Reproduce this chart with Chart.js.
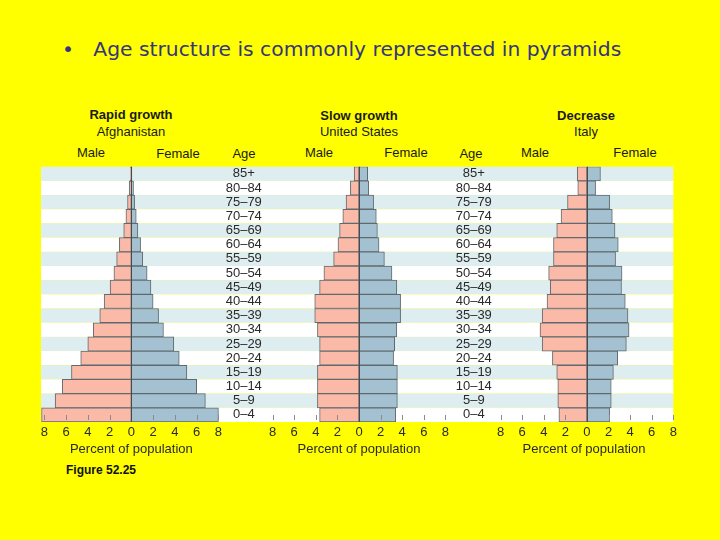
<!DOCTYPE html>
<html>
<head>
<meta charset="utf-8">
<script src="https://cdn.jsdelivr.net/npm/chart.js@4.4.0/dist/chart.umd.min.js"></script>
<style>
  body { margin: 0; background: #ffff00; width: 720px; height: 540px; overflow: hidden; position: relative; font-family: "Liberation Sans", Arial, sans-serif; }
  .lbl { position: absolute; transform: translate(-50%, -50%); font-size: 13px; color: #1a1a1a; white-space: nowrap; }
  .b { font-weight: bold; }
  .cv { position: absolute; top: 160px; height: 302px; }
  #titre { position: absolute; left: 62px; top: 37px; font-family: "Comic Sans MS", "DejaVu Sans", sans-serif; font-size: 20.3px; color: #35357a; white-space: nowrap; }
  #fig { position: absolute; left: 66px; top: 463px; font-size: 12px; font-weight: bold; color: #111; }
</style>
</head>
<body>
<div id="titre">&bull;&nbsp;&nbsp; Age structure is commonly represented in pyramids</div>

<div class="lbl b" style="left:131px;top:114px">Rapid growth</div>
<div class="lbl" style="left:131px;top:131px">Afghanistan</div>
<div class="lbl" style="left:91px;top:152px">Male</div>
<div class="lbl" style="left:178px;top:153px">Female</div>
<div class="lbl" style="left:244px;top:153px">Age</div>

<div class="lbl b" style="left:359px;top:115px">Slow growth</div>
<div class="lbl" style="left:359px;top:131px">United States</div>
<div class="lbl" style="left:319px;top:152px">Male</div>
<div class="lbl" style="left:406px;top:152px">Female</div>
<div class="lbl" style="left:471px;top:153px">Age</div>

<div class="lbl b" style="left:586px;top:115px">Decrease</div>
<div class="lbl" style="left:586px;top:131px">Italy</div>
<div class="lbl" style="left:535px;top:152px">Male</div>
<div class="lbl" style="left:635px;top:152px">Female</div>

<div class="cv" style="left:20px;width:246px"><canvas id="c1"></canvas></div>
<div class="cv" style="left:266px;width:230px"><canvas id="c2"></canvas></div>
<div class="cv" style="left:494px;width:206px"><canvas id="c3"></canvas></div>

<div id="fig">Figure 52.25</div>

<script>
// fasce d'eta, dall'alto verso il basso
const eta = ["85+", "80–84", "75–79", "70–74", "65–69", "60–64", "55–59", "50–54", "45–49",
  "40–44", "35–39", "30–34", "25–29", "20–24", "15–19", "10–14", "5–9", "0–4"];
const tacche = [-8, -6, -4, -2, 0, 2, 4, 6, 8];

// percentuali della popolazione
const afgMaschi = [0.1, 0.2, 0.35, 0.5, 0.7, 1.1, 1.35, 1.6, 1.95, 2.5, 2.9, 3.5, 4.0, 4.65, 5.5, 6.35, 7.0, 8.25];
const afgFemmine = [0.05, 0.2, 0.3, 0.45, 0.6, 0.85, 1.05, 1.45, 1.8, 2.0, 2.5, 2.95, 3.9, 4.4, 5.1, 6.0, 6.8, 8.0];
const usaMaschi = [0.45, 0.8, 1.2, 1.5, 1.8, 1.95, 2.35, 3.25, 3.65, 4.1, 4.1, 3.85, 3.65, 3.65, 3.85, 3.85, 3.85, 3.65];
const usaFemmine = [0.8, 0.9, 1.35, 1.6, 1.7, 1.85, 2.35, 3.05, 3.5, 3.85, 3.85, 3.5, 3.3, 3.2, 3.55, 3.55, 3.55, 3.4];
const itaMaschi = [0.9, 0.85, 1.8, 2.4, 2.8, 3.1, 3.1, 3.55, 3.4, 3.7, 4.15, 4.35, 4.15, 3.2, 2.8, 2.7, 2.7, 2.6];
const itaFemmine = [1.25, 0.8, 2.1, 2.35, 2.6, 2.9, 2.65, 3.25, 3.2, 3.55, 3.8, 3.9, 3.65, 2.85, 2.45, 2.25, 2.25, 2.1];

// strisce di sfondo, tacche e linea dello zero
const sfondoPiramide = {
  id: "sfondoPiramide",
  beforeDraw(chart, args, opts) {
    let ctx = chart.ctx, area = chart.chartArea, y = chart.scales.y;
    let h = (area.bottom - area.top) / eta.length;
    let x0 = opts.daBordo ? area.left : 0;
    let x1 = opts.aBordo ? area.right : chart.width;
    ctx.save();
    for (let i = 0; i < eta.length; i++) {
      ctx.fillStyle = i % 2 === 0 ? "#deedef" : "#ffffff";
      ctx.fillRect(x0, y.getPixelForValue(i) - h / 2, x1 - x0, h);
    }
    ctx.restore();
  },
  afterDatasetsDraw(chart) {
    let ctx = chart.ctx, area = chart.chartArea, x = chart.scales.x;
    ctx.save();
    ctx.strokeStyle = "#8a8a8a";
    ctx.lineWidth = 1;
    tacche.forEach((v) => {
      let px = Math.round(x.getPixelForValue(v)) + 0.5;
      ctx.beginPath();
      ctx.moveTo(px, area.bottom - 7);
      ctx.lineTo(px, area.bottom - 2);
      ctx.stroke();
    });
    let p0 = Math.round(x.getPixelForValue(0)) + 0.5;
    ctx.strokeStyle = "#4a4a4a";
    ctx.beginPath();
    ctx.moveTo(p0, area.top);
    ctx.lineTo(p0, area.bottom);
    ctx.stroke();
    ctx.restore();
  },
};

function creaPiramide(id, maschi, femmine, min, max, mostraEta, pad, daBordo, aBordo) {
  return new Chart(document.getElementById(id), {
    type: "bar",
    data: {
      labels: eta,
      datasets: [
        {
          label: "Male",
          data: maschi.map((v) => -v),
          backgroundColor: "#fbb9a7",
          borderColor: "#5f6a6e",
          borderWidth: 1,
          borderSkipped: false,
          barPercentage: 1,
          categoryPercentage: 1,
        },
        {
          label: "Female",
          data: femmine,
          backgroundColor: "#a4c1d1",
          borderColor: "#5f6a6e",
          borderWidth: 1,
          borderSkipped: false,
          barPercentage: 1,
          categoryPercentage: 1,
        },
      ],
    },
    options: {
      indexAxis: "y",
      responsive: true,
      maintainAspectRatio: false,
      animation: false,
      layout: { padding: pad },
      plugins: {
        legend: { display: false },
        tooltip: { enabled: false },
        sfondoPiramide: { daBordo: daBordo, aBordo: aBordo },
      },
      scales: {
        x: {
          stacked: true,
          min: min,
          max: max,
          grid: { display: false, drawTicks: false },
          border: { display: false },
          afterBuildTicks: (scale) => {
            scale.ticks = tacche.map((v) => ({ value: v }));
          },
          afterFit: (scale) => {
            scale.height = 40;
          },
          ticks: {
            color: "#2a2a2a",
            font: { family: "Liberation Sans", size: 13 },
            padding: 3,
            maxRotation: 0,
            callback: (v) => Math.abs(v),
          },
          title: {
            display: true,
            text: "Percent of population",
            color: "#2a2a2a",
            font: { family: "Liberation Sans", size: 13 },
            padding: { top: 0, bottom: 5 },
          },
        },
        y: {
          stacked: true,
          display: mostraEta,
          position: "right",
          grid: { display: false, drawTicks: false },
          border: { display: false },
          afterFit: (scale) => {
            scale.width = mostraEta ? 44.3 : 0;
            scale.paddingTop = 0;
            scale.paddingBottom = 0;
          },
          ticks: {
            color: "#2a2a2a",
            font: { family: "Liberation Sans", size: 13 },
            crossAlign: "center",
            padding: 4,
            autoSkip: false,
          },
        },
      },
    },
    plugins: [sfondoPiramide],
  });
}

creaPiramide("c1", afgMaschi, afgFemmine, -8.3, 8.3, true, { top: 6.7, left: 21, right: 0, bottom: 0 }, true, false);
creaPiramide("c2", usaMaschi, usaFemmine, -8.58, 8.58, true, { top: 6.7, left: 0, right: 0, bottom: 0 }, false, false);
creaPiramide("c3", itaMaschi, itaFemmine, -8.56, 8, false, { top: 6.7, left: 0, right: 26.7, bottom: 0 }, false, true);
</script>
</body>
</html>
